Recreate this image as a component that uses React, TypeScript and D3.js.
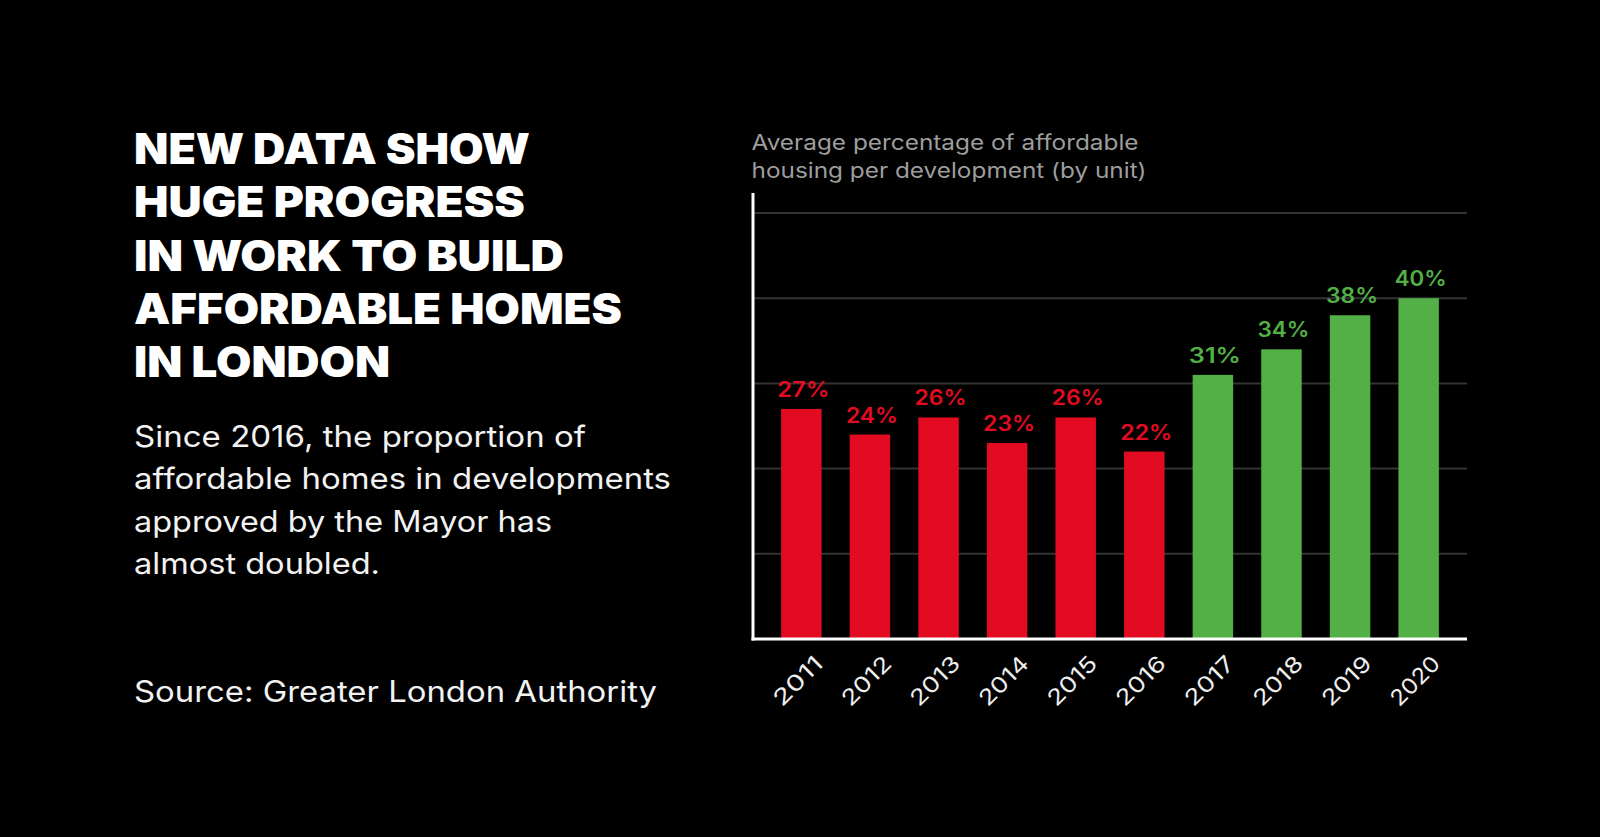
import React from 'react';
import * as d3 from 'd3';

const years = ['2011', '2012', '2013', '2014', '2015', '2016', '2017', '2018', '2019', '2020'];
const values = [27, 24, 26, 23, 26, 22, 31, 34, 38, 40];
const firstGreenYear = 2017;
const yTicks = [10, 20, 30, 40, 50];

const titleLines = ['NEW DATA SHOW', 'HUGE PROGRESS', 'IN WORK TO BUILD', 'AFFORDABLE HOMES', 'IN LONDON'];
const titleWidths = [396, 391, 430, 488, 256];
const bodyLines = ['Since 2016, the proportion of', 'affordable homes in developments', 'approved by the Mayor has', 'almost doubled.'];
const bodyWidths = [452, 537, 418, 246];
const sourceText = 'Source: Greater London Authority';
const subtitleLines = ['Average percentage of affordable', 'housing per development (by unit)'];
const subtitleWidths = [387, 395];

const RED = '#e30b21';
const GREEN = '#52b047';

export default function App() {
  const x = d3.scaleBand<string>().domain(years).range([753, 1467]).paddingInner(0.41).paddingOuter(0.41);
  const y = d3.scaleLinear().domain([0, 50]).range([639, 213]);
  const bw = x.bandwidth();
  const x0 = 753;
  const x1 = 1467;

  return (
    <div style={{ position: 'fixed', left: 0, top: 0, width: 1600, height: 837, background: '#000' }}>
      <svg width={1600} height={837} style={{ display: 'block' }}>
        <rect x={0} y={0} width={1600} height={837} fill="#000" />
        {/* Title */}
        {titleLines.map((t, i) => (
          <text key={t} x={134} y={164 + i * 53.3} fill="#fff" fontFamily="Inter, Roboto, sans-serif" fontWeight={900}
            fontSize={42} textLength={titleWidths[i]} lengthAdjust="spacingAndGlyphs">{t}</text>
        ))}
        {/* Body */}
        {bodyLines.map((t, i) => (
          <text key={t} x={134} y={446.5 + i * 42.5} fill="#f2f2f2" fontFamily="Inter, Roboto, sans-serif" fontWeight={400}
            fontSize={29.5} textLength={bodyWidths[i]} lengthAdjust="spacingAndGlyphs">{t}</text>
        ))}
        <text x={134} y={702} fill="#f2f2f2" fontFamily="Inter, Roboto, sans-serif" fontSize={29.5} textLength={523} lengthAdjust="spacingAndGlyphs">{sourceText}</text>
        {/* Subtitle */}
        {subtitleLines.map((t, i) => (
          <text key={t} x={751.5} y={149.5 + i * 28.5} fill="#9d9d9d" fontFamily="Inter, Roboto, sans-serif" fontWeight={400}
            fontSize={21} textLength={subtitleWidths[i]} lengthAdjust="spacingAndGlyphs">{t}</text>
        ))}
        {/* Gridlines */}
        {yTicks.map((t) => (
          <line key={t} x1={x0} x2={x1} y1={y(t)} y2={y(t)} stroke="#333" strokeWidth={2} />
        ))}
        {/* Bars */}
        {years.map((yr, i) => {
          const c = +yr >= firstGreenYear ? GREEN : RED;
          const bx = x(yr) as number;
          return (
            <g key={yr}>
              <rect x={bx} y={y(values[i])} width={bw} height={y(0) - y(values[i])} fill={c} />
              <text x={bx + bw / 2 + 2} y={y(values[i]) - 12} fill={c} textAnchor="middle" fontFamily="Inter, Roboto, sans-serif"
                fontWeight={600} fontSize={21} textLength={52} lengthAdjust="spacingAndGlyphs">{values[i] + '%'}</text>
              <text transform={`translate(${bx + bw / 2 + 23},665) rotate(-45)`} fill="#eee" textAnchor="end"
                fontFamily="Inter, Roboto, sans-serif" fontSize={22} textLength={60} lengthAdjust="spacingAndGlyphs">{yr}</text>
            </g>
          );
        })}
        {/* Axes */}
        <line x1={x0} x2={x0} y1={y(50) - 20} y2={y(0) + 1.5} stroke="#fff" strokeWidth={3} />
        <line x1={x0 - 1.5} x2={x1} y1={y(0)} y2={y(0)} stroke="#fff" strokeWidth={3} />
      </svg>
    </div>
  );
}
